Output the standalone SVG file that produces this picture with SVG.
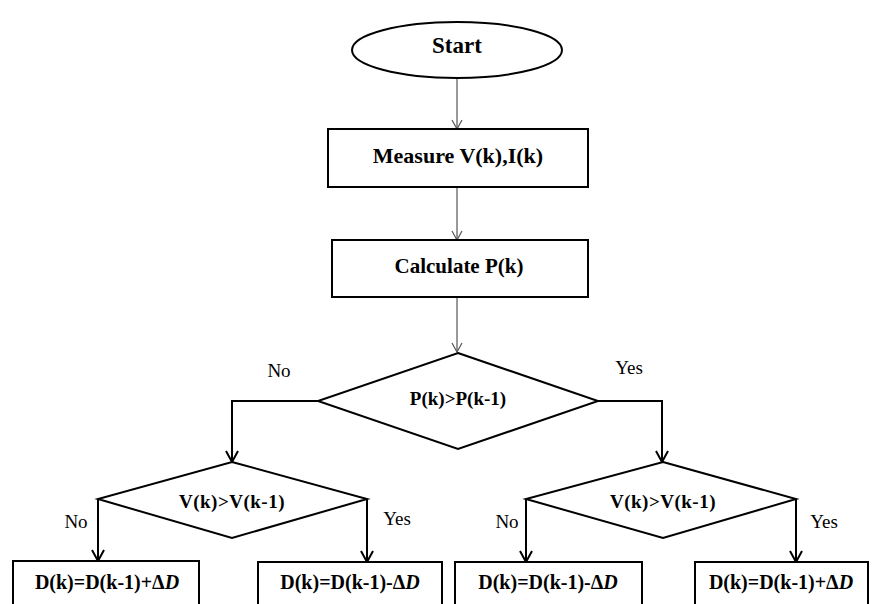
<svg xmlns="http://www.w3.org/2000/svg" width="873" height="604" viewBox="0 0 873 604">
<style>
.shape{fill:#fff;stroke:#000;stroke-width:2}
.t{font-family:"Liberation Serif","Times New Roman",serif;font-weight:bold;fill:#000;text-anchor:middle;dominant-baseline:central}
.lbl{font-family:"Liberation Serif","Times New Roman",serif;font-size:19px;fill:#000;text-anchor:middle;dominant-baseline:central}
.thin{fill:none;stroke:#555;stroke-width:1.2}
.thick{fill:none;stroke:#000;stroke-width:2}
</style>
<defs>
<marker id="ah" markerWidth="12" markerHeight="12" refX="10" refY="6" orient="auto" markerUnits="userSpaceOnUse">
<path d="M1,1 L10,6 L1,11" fill="none" stroke="#555" stroke-width="1.2"/>
</marker>
<marker id="ahk" markerWidth="14" markerHeight="14" refX="12" refY="7" orient="auto" markerUnits="userSpaceOnUse">
<path d="M1,1 L12,7 L1,13" fill="none" stroke="#000" stroke-width="2"/>
</marker>
</defs>
<g id="connectors">
<path class="thin" d="M457,78 V129" marker-end="url(#ah)"/>
<path class="thin" d="M457,187 V240" marker-end="url(#ah)"/>
<path class="thin" d="M457,297 V352" marker-end="url(#ah)"/>
<path class="thick" d="M318,401 H232 V462" marker-end="url(#ahk)"/>
<path class="thick" d="M598,401 H662 V462" marker-end="url(#ahk)"/>
<path class="thick" d="M98,499 V561" marker-end="url(#ahk)"/>
<path class="thick" d="M367,499 V562" marker-end="url(#ahk)"/>
<path class="thick" d="M526,499 V562" marker-end="url(#ahk)"/>
<path class="thick" d="M796,499 V562" marker-end="url(#ahk)"/>
<text class="lbl" x="279" y="370">No</text>
<text class="lbl" x="629" y="367">Yes</text>
<text class="lbl" x="76" y="521">No</text>
<text class="lbl" x="397" y="518">Yes</text>
<text class="lbl" x="507" y="521">No</text>
<text class="lbl" x="824" y="521">Yes</text>
</g>
<g id="start">
<ellipse class="shape" cx="457" cy="50" rx="105" ry="28"/>
<text class="t" x="457" y="45" font-size="23">Start</text>
</g>
<g id="measure">
<rect class="shape" x="328" y="129" width="260" height="58"/>
<text class="t" x="458" y="155" font-size="22">Measure V(k),I(k)</text>
</g>
<g id="calculate">
<rect class="shape" x="332" y="240" width="256" height="57"/>
<text class="t" x="459" y="266" font-size="21">Calculate P(k)</text>
</g>
<g id="dec1">
<polygon class="shape" points="458,353 598,401 458,449 318,401"/>
<text class="t" x="458" y="398" font-size="19">P(k)&gt;P(k-1)</text>
</g>
<g id="dec2">
<polygon class="shape" points="232,462 367,499 232,538 98,499"/>
<text class="t" x="232" y="501" font-size="19" letter-spacing="0.5">V(k)&gt;V(k-1)</text>
</g>
<g id="dec3">
<polygon class="shape" points="663,462 796,499 663,538 526,499"/>
<text class="t" x="663" y="501" font-size="19" letter-spacing="0.5">V(k)&gt;V(k-1)</text>
</g>
<g id="box1">
<rect class="shape" x="13" y="561" width="186" height="50"/>
<text class="t" x="107" y="582" font-size="20">D(k)=D(k-1)+Δ<tspan font-style="italic">D</tspan></text>
</g>
<g id="box2">
<rect class="shape" x="258" y="562" width="184" height="50"/>
<text class="t" x="350" y="582" font-size="20">D(k)=D(k-1)-Δ<tspan font-style="italic">D</tspan></text>
</g>
<g id="box3">
<rect class="shape" x="455" y="562" width="187" height="50"/>
<text class="t" x="548" y="582" font-size="20">D(k)=D(k-1)-Δ<tspan font-style="italic">D</tspan></text>
</g>
<g id="box4">
<rect class="shape" x="695" y="562" width="173" height="50"/>
<text class="t" x="781" y="582" font-size="20">D(k)=D(k-1)+Δ<tspan font-style="italic">D</tspan></text>
</g>
</svg>
